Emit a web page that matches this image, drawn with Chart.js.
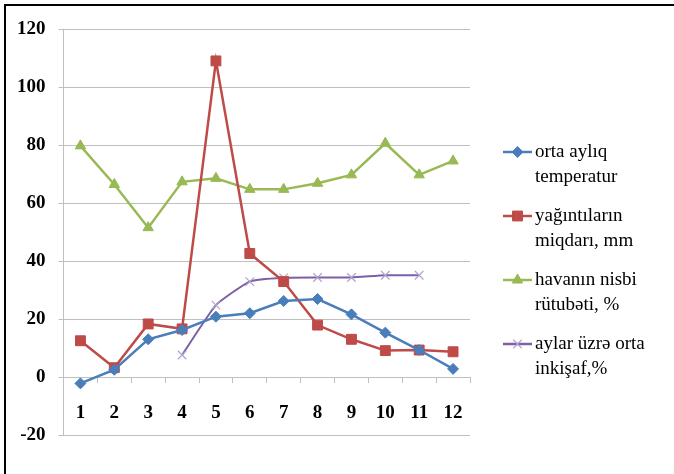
<!DOCTYPE html>
<html>
<head>
<meta charset="utf-8">
<script src="https://cdn.jsdelivr.net/npm/chart.js@4.4.1/dist/chart.umd.min.js"></script>
<style>
  html, body { margin: 0; padding: 0; background: #fff; }
  #wrap { position: relative; width: 674px; height: 474px; }
  #frame { position: absolute; left: 4px; top: 4px; right: 0; bottom: 0;
           border-top: 2px solid #000; border-left: 2px solid #000;
           pointer-events: none; }
</style>
</head>
<body>
<div id="wrap">
  <canvas id="c" width="674" height="474"></canvas>
  <div id="frame"></div>
</div>
<script>
const months = ['1','2','3','4','5','6','7','8','9','10','11','12'];
const temperature   = [-2.2, 2.5, 13, 16.2, 20.8, 22, 26.2, 26.9, 21.6, 15.3, 9.3, 2.8];
const precipitation = [12.5, 3.2, 18.3, 16.6, 109, 42.6, 32.9, 17.9, 13, 9.1, 9.3, 8.7];
const humidity      = [79.7, 66.4, 51.5, 67.3, 68.5, 64.7, 64.7, 66.8, 69.7, 80.6, 69.7, 74.5];
const development   = [null, null, null, 7.6, 24.8, 32.9, 34.2, 34.3, 34.3, 35.1, 35.1, null];
const seriesLabels = [
  ['orta aylıq', 'temperatur'],
  ['yağıntıların', 'miqdarı, mm'],
  ['havanın nisbi', 'rütubəti, %'],
  ['aylar üzrə orta', 'inkişaf,%']
];
const yTicks = { min: -20, max: 120, step: 20 };

const SERIF = '"Liberation Serif", "Times New Roman", serif';

const legendPlugin = {
  id: 'excelLegend',
  afterDraw(chart) {
    const ctx = chart.ctx;
    const x0 = 503, x1 = 532, tx = 535;
    const firstY = 152, itemGap = 64, lineH = 25;
    ctx.save();
    chart.data.datasets.forEach((ds, i) => {
      const y = firstY + i * itemGap;
      ctx.strokeStyle = ds.borderColor;
      ctx.lineWidth = 2.5;
      ctx.beginPath(); ctx.moveTo(x0, y); ctx.lineTo(x1, y); ctx.stroke();
      ctx.fillStyle = ds.pointBackgroundColor;
      ctx.strokeStyle = ds.pointBorderColor;
      ctx.lineWidth = ds.pointBorderWidth || 1;
      Chart.helpers.drawPoint(ctx, {
        pointStyle: ds.pointStyle, radius: ds.pointRadius, rotation: 0,
        borderWidth: ds.pointBorderWidth || 1
      }, (x0 + x1) / 2, y);
      ctx.font = '19px ' + SERIF;
      ctx.fillStyle = '#000';
      ctx.textBaseline = 'middle';
      ctx.textAlign = 'left';
      ds.legendText.forEach((t, k) => ctx.fillText(t, tx, y + k * lineH));
    });
    ctx.restore();
  }
};

new Chart(document.getElementById('c'), {
  type: 'line',
  data: {
    labels: months,
    datasets: [
      { label: seriesLabels[0].join(' '), legendText: seriesLabels[0], data: temperature,
        borderColor: '#4A7EBB', backgroundColor: '#4A7EBB', borderWidth: 2.5,
        pointStyle: 'rectRot', pointRadius: 5.5, pointBackgroundColor: '#4A7EBB',
        pointBorderColor: '#4A7EBB', pointBorderWidth: 1, tension: 0 },
      { label: seriesLabels[1].join(' '), legendText: seriesLabels[1], data: precipitation,
        borderColor: '#BE4B48', backgroundColor: '#BE4B48', borderWidth: 2.5,
        pointStyle: 'rect', pointRadius: 7, pointBackgroundColor: '#BE4B48',
        pointBorderColor: '#BE4B48', pointBorderWidth: 1, tension: 0 },
      { label: seriesLabels[2].join(' '), legendText: seriesLabels[2], data: humidity,
        borderColor: '#98B954', backgroundColor: '#98B954', borderWidth: 2.5,
        pointStyle: 'triangle', pointRadius: 6, pointBackgroundColor: '#98B954',
        pointBorderColor: '#98B954', pointBorderWidth: 1, tension: 0 },
      { label: seriesLabels[3].join(' '), legendText: seriesLabels[3], data: development,
        borderColor: '#7D5FA6', backgroundColor: '#7D5FA6', borderWidth: 2,
        pointStyle: 'crossRot', pointRadius: 6, pointBackgroundColor: '#B3A2CF',
        pointBorderColor: '#B3A2CF', pointBorderWidth: 1.2, tension: 0.15 }
    ]
  },
  options: {
    responsive: false,
    animation: false,
    devicePixelRatio: 1,
    layout: { padding: { left: 4, top: 29, right: 204, bottom: 39 } },
    plugins: { legend: { display: false }, tooltip: { enabled: false } },
    scales: {
      x: {
        type: 'category',
        position: { y: 0 },
        offset: true,
        grid: { display: true, drawOnChartArea: false, drawTicks: true, tickLength: 5,
                offset: true, color: '#BFBFBF' },
        border: { display: true, color: '#BFBFBF', width: 1 },
        ticks: { color: '#000', padding: 20, maxRotation: 0, autoSkip: false,
                 font: { family: SERIF, size: 19, weight: 'bold' } }
      },
      y: {
        min: yTicks.min, max: yTicks.max,
        grid: { color: '#BFBFBF', tickLength: 5, lineWidth: 1 },
        border: { display: true, color: '#BFBFBF' },
        ticks: { stepSize: yTicks.step, color: '#000', padding: 13,
                 font: { family: SERIF, size: 19, weight: 'bold' } }
      }
    }
  },
  plugins: [legendPlugin]
});
</script>
</body>
</html>
